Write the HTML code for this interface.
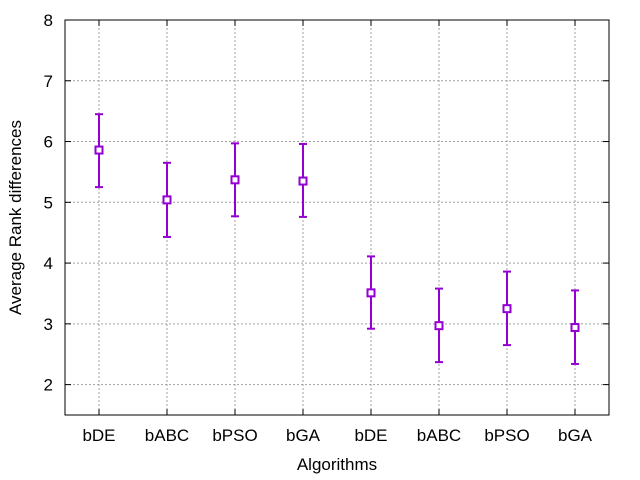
<!DOCTYPE html>
<html><head><meta charset="utf-8"><style>
body{margin:0;background:#fff}
svg{display:block;font-family:"Liberation Sans",sans-serif}
</style></head><body>
<svg id="chart" width="640" height="480"></svg>
<script>
const categories=["bDE","bABC","bPSO","bGA","bDE","bABC","bPSO","bGA"];
const means=[5.86,5.04,5.37,5.35,3.51,2.97,3.25,2.94];
const lows=[5.25,4.43,4.77,4.76,2.92,2.37,2.65,2.34];
const highs=[6.45,5.65,5.97,5.96,4.11,3.58,3.86,3.55];
const yTicks=[2,3,4,5,6,7,8];
const NS="http://www.w3.org/2000/svg";
const svg=document.getElementById('chart');
const L=65,R=609,T=20,B=415,ymin=1.5,ymax=8;
const FS=17;
const xs=i=>L+(i+0.5)*(R-L)/categories.length;
const ys=v=>B-(v-ymin)/(ymax-ymin)*(B-T);
function mk(t,a){const e=document.createElementNS(NS,t);for(const k in a)e.setAttribute(k,a[k]);svg.appendChild(e);return e;}
yTicks.forEach(v=>{
 const g=mk('line',{x1:L,x2:R,y1:ys(v),y2:ys(v),stroke:'#a0a0a0','stroke-dasharray':'2,2','stroke-width':1});
 
 
 const tk=mk('line',{x1:L,x2:L+6,y1:ys(v),y2:ys(v),stroke:'#000'});
 
 
 const tk2=mk('line',{x1:R,x2:R-6,y1:ys(v),y2:ys(v),stroke:'#000'});
 
 
 const t=mk('text',{x:L-12,y:ys(v)+6,'text-anchor':'end','font-size':FS});
 t.textContent=v;
 
 
});
categories.forEach((c,i)=>{
 const x=xs(i);
 const g=mk('line',{x1:x,x2:x,y1:T,y2:B,stroke:'#a0a0a0','stroke-dasharray':'2,2','stroke-width':1});
 
 
 const tk=mk('line',{x1:x,x2:x,y1:B,y2:B-6,stroke:'#000'});
 
 
 const tk2=mk('line',{x1:x,x2:x,y1:T,y2:T+6,stroke:'#000'});
 
 
 const t=mk('text',{x:x,y:B+26,'text-anchor':'middle','font-size':FS});
 t.textContent=c;
 
 
});
const frame=mk('rect',{x:L,y:T,width:R-L,height:B-T,fill:'none',stroke:'#000'});


const col='#9400d3';
categories.forEach((c,i)=>{
 const x=xs(i);
 const bar=mk('line',{x1:x,x2:x,y1:ys(highs[i]),y2:ys(lows[i]),stroke:col,'stroke-width':2});
 
 
 [highs[i],lows[i]].forEach(v=>{
  const cap=mk('line',{x1:x-4,x2:x+4,y1:ys(v),y2:ys(v),stroke:col,'stroke-width':2});
  
  
 });
 const p=mk('rect',{x:x-3.5,y:ys(means[i])-3.5,width:7,height:7,fill:'#fff',stroke:col,'stroke-width':2});
 
 
});
const xt=mk('text',{x:(L+R)/2,y:470,'text-anchor':'middle','font-size':FS});
xt.textContent='Algorithms';


const yt=mk('text',{x:21,y:(T+B)/2,'text-anchor':'middle','font-size':FS,transform:'rotate(-90 21 '+((T+B)/2)+')'});
yt.textContent='Average Rank differences';


</script>
</body></html>
